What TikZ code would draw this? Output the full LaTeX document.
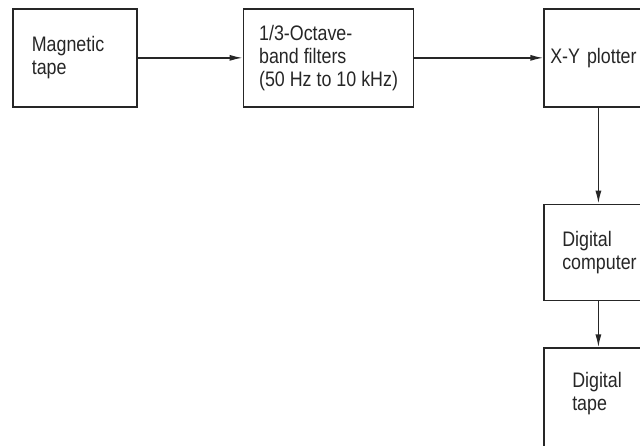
\documentclass[tikz,border=0pt]{standalone}
\usepackage{fontspec}
\setmainfont{Liberation Sans}[FakeStretch=0.85]
\usepackage{xcolor}
\usetikzlibrary{arrows.meta,positioning}
\definecolor{ink}{HTML}{262626}

\begin{document}
\begin{tikzpicture}[
    x=1pt, y=-1pt,
    box/.style={rectangle, draw=ink, line width=1.7pt, align=left, text=ink, font=\fontsize{21}{23}\selectfont},
    arrow/.style={-{Latex[length=13pt,width=6pt]}, draw=ink, line width=1.4pt}
]
\useasboundingbox (0,0) rectangle (640,445);
\node[box, anchor=north west, minimum height=98pt, inner xsep=19pt, text width=86pt] (tape) at (12,8) {Magnetic\\tape};
\node[box, right=105pt of tape.north east, anchor=north west, minimum height=98pt, minimum width=170pt] (filt) {1/3-Octave-\\band filters\\(50 Hz to 10 kHz)};
\node[box, right=129pt of filt.north east, anchor=north west, minimum height=98pt, inner xsep=6pt, text width=120pt] (xy) {X-Y plotter};
\node[box, below=96pt of xy.south west, anchor=north west, minimum height=96pt, inner xsep=18pt, text width=100pt] (comp) {Digital\\computer};
\node[box, below=46pt of comp.south west, anchor=north west, inner xsep=28pt, inner ysep=24pt, text width=90pt, text depth=90pt] (dtape) {Digital\\tape};

\draw[arrow] (tape.east) -- (tape.east -| filt.west);
\draw[arrow] (filt.east) -- (filt.east -| xy.west);
\draw[arrow] ([xshift=55pt]xy.south west) -- ([xshift=55pt]xy.south west |- comp.north);
\draw[arrow] ([xshift=55pt]comp.south west) -- ([xshift=55pt]comp.south west |- dtape.north);
\end{tikzpicture}
\end{document}
